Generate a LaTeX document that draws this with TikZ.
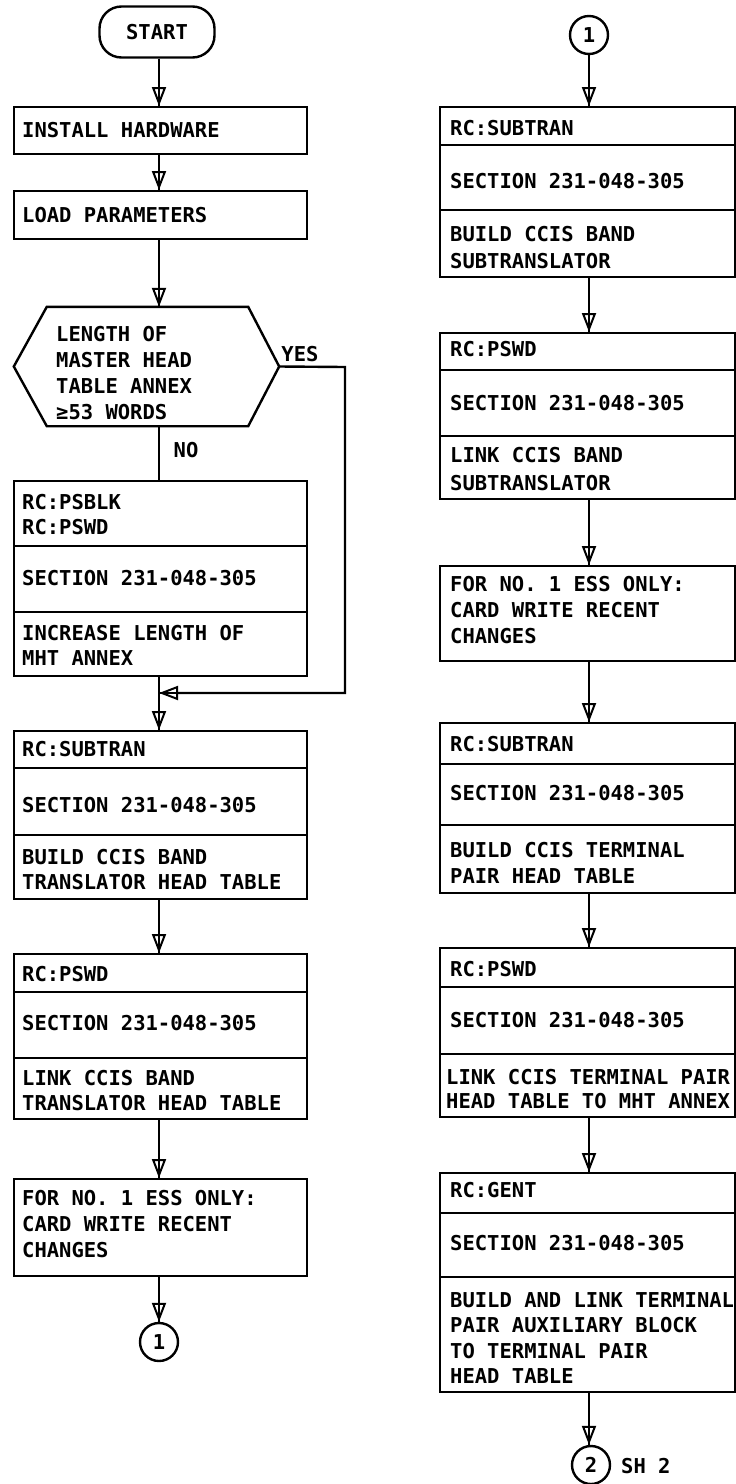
\documentclass[tikz,border=0pt]{standalone}
\usepackage{fontspec}
\newfontfamily\lf{DejaVu Sans Mono Bold}
\usetikzlibrary{arrows.meta}
\begin{document}
\begin{tikzpicture}[x=1pt,y=-1pt,line width=2.4pt,
  box/.style={draw,anchor=north west,inner sep=0pt,minimum width=#1},
  lbox/.style={box=293pt},
  rbox/.style={box=295pt},
  txt/.style={anchor=north west,inner sep=0pt,align=left,font=\lf\fontsize{20.5}{26}\selectfont},
  ctxt/.style={inner sep=0pt,font=\lf\fontsize{20.5}{26}\selectfont},
  conn/.style={draw,circle,inner sep=0pt,minimum size=38pt,font=\lf\fontsize{20.5}{26}\selectfont},
  arr/.style={postaction={draw,-}, -{Triangle[open,length=19pt,width=14pt,line width=2pt]}}
]
\fill[white] (0,0) rectangle (736,1484);
\useasboundingbox (0,0) rectangle (736,1484);
\coordinate (Lx) at (159,0);
\coordinate (Rx) at (589,0);

% ---------- left column ----------
\node[draw,rounded corners=22pt,minimum width=115pt,minimum height=51pt,inner sep=0pt,font=\lf\fontsize{20.5}{26}\selectfont] (start) at (157,32) {START};

\node[lbox,minimum height=47pt] (b1) at (13,106) {};
\node[txt] at (21,121.5) {INSTALL HARDWARE};

\node[lbox,minimum height=48pt] (b2) at (13,190) {};
\node[txt] at (21,206.5) {LOAD PARAMETERS};

\node[inner sep=0pt,minimum width=263pt,minimum height=117pt] (dec) at (146.5,366.5) {};
\draw (dec.west) -- ([xshift=33pt]dec.north west) -- ([xshift=-31pt]dec.north east) -- (dec.east)
      -- ([xshift=-31pt]dec.south east) -- ([xshift=33pt]dec.south west) -- cycle;
\node[txt,font=\lf\fontsize{20.5}{25.7}\selectfont] (dectext) at (55,325.5) {LENGTH OF\\MASTER HEAD\\TABLE ANNEX\\≥53 WORDS};
\node[ctxt] (yes) at (300,354) {YES};
\node[ctxt] (no) at (186,450) {NO};

\node[lbox,minimum height=195pt] (b3) at (13,480) {};
\draw (b3.west |- 0,546) -- (b3.east |- 0,546);
\draw (b3.west |- 0,612) -- (b3.east |- 0,612);
\node[txt,font=\lf\fontsize{20.5}{25}\selectfont] at (21,493.5) {RC:PSBLK\\RC:PSWD};
\node[txt] at (21,569.5) {SECTION 231-048-305};
\node[txt,font=\lf\fontsize{20.5}{25}\selectfont] at (21,624.5) {INCREASE LENGTH OF\\MHT ANNEX};

\node[lbox,minimum height=168pt] (b4) at (13,730) {};
\draw (b4.west |- 0,768) -- (b4.east |- 0,768);
\draw (b4.west |- 0,835) -- (b4.east |- 0,835);
\node[txt] at (21,740.5) {RC:SUBTRAN};
\node[txt] at (21,796.5) {SECTION 231-048-305};
\node[txt,font=\lf\fontsize{20.5}{24.5}\selectfont] at (21,848.5) {BUILD CCIS BAND\\TRANSLATOR HEAD TABLE};

\node[lbox,minimum height=165pt] (b5) at (13,953) {};
\draw (b5.west |- 0,992) -- (b5.east |- 0,992);
\draw (b5.west |- 0,1058) -- (b5.east |- 0,1058);
\node[txt] at (21,965.5) {RC:PSWD};
\node[txt] at (21,1014.5) {SECTION 231-048-305};
\node[txt,font=\lf\fontsize{20.5}{24.5}\selectfont] at (21,1069.5) {LINK CCIS BAND\\TRANSLATOR HEAD TABLE};

\node[lbox,minimum height=97pt] (b6) at (13,1178) {};
\node[txt] at (21,1189.5) {FOR NO. 1 ESS ONLY:\\CARD WRITE RECENT\\CHANGES};

\node[conn] (c1a) at (159,1342) {1};

\draw[arr] (start.south -| Lx) -- (b1.north -| Lx);
\draw[arr] (b1.south -| Lx) -- (b2.north -| Lx);
\draw[arr] (b2.south -| Lx) -- (dec.north -| Lx);
\draw (dec.south -| Lx) -- (b3.north -| Lx);
\coordinate (yr) at (345,367);
\coordinate (join) at (159,693);
\draw (dec.east) -- (yr) -- (yr |- join) -- ([xshift=19pt]join);
\draw[arr] ([xshift=19pt]join) -- (join);
\draw[arr] (b3.south -| Lx) -- (b4.north -| Lx);
\draw[arr] (b4.south -| Lx) -- (b5.north -| Lx);
\draw[arr] (b5.south -| Lx) -- (b6.north -| Lx);
\draw[arr] (b6.south -| Lx) -- (c1a.north -| Lx);

% ---------- right column ----------
\node[conn] (c1b) at (589,35) {1};

\node[rbox,minimum height=170pt] (r1) at (439,106) {};
\draw (r1.west |- 0,145) -- (r1.east |- 0,145);
\draw (r1.west |- 0,210) -- (r1.east |- 0,210);
\node[txt] at (449,119.5) {RC:SUBTRAN};
\node[txt] at (449,172.5) {SECTION 231-048-305};
\node[txt,font=\lf\fontsize{20.5}{27}\selectfont] at (449,225.5) {BUILD CCIS BAND\\SUBTRANSLATOR};

\node[rbox,minimum height=166pt] (r2) at (439,332) {};
\draw (r2.west |- 0,370) -- (r2.east |- 0,370);
\draw (r2.west |- 0,436) -- (r2.east |- 0,436);
\node[txt] at (449,340.5) {RC:PSWD};
\node[txt] at (449,394.5) {SECTION 231-048-305};
\node[txt,font=\lf\fontsize{20.5}{28}\selectfont] at (449,446.5) {LINK CCIS BAND\\SUBTRANSLATOR};

\node[rbox,minimum height=95pt] (r3) at (439,565) {};
\node[txt] at (449,575.5) {FOR NO. 1 ESS ONLY:\\CARD WRITE RECENT\\CHANGES};

\node[rbox,minimum height=170pt] (r4) at (439,722) {};
\draw (r4.west |- 0,764) -- (r4.east |- 0,764);
\draw (r4.west |- 0,825) -- (r4.east |- 0,825);
\node[txt] at (449,735.5) {RC:SUBTRAN};
\node[txt] at (449,784.5) {SECTION 231-048-305};
\node[txt] at (449,841.5) {BUILD CCIS TERMINAL\\PAIR HEAD TABLE};

\node[rbox,minimum height=169pt] (r5) at (439,947) {};
\draw (r5.west |- 0,987) -- (r5.east |- 0,987);
\draw (r5.west |- 0,1054) -- (r5.east |- 0,1054);
\node[txt] at (449,960.5) {RC:PSWD};
\node[txt] at (449,1011.5) {SECTION 231-048-305};
\node[txt,font=\lf\fontsize{20.5}{24}\selectfont] at (445,1068.5) {LINK CCIS TERMINAL PAIR\\HEAD TABLE TO MHT ANNEX};

\node[rbox,minimum height=219pt] (r6) at (439,1172) {};
\draw (r6.west |- 0,1213) -- (r6.east |- 0,1213);
\draw (r6.west |- 0,1277) -- (r6.east |- 0,1277);
\node[txt] at (449,1181.5) {RC:GENT};
\node[txt] at (449,1234.5) {SECTION 231-048-305};
\node[txt,font=\lf\fontsize{20.5}{25.3}\selectfont] at (449,1291.5) {BUILD AND LINK TERMINAL\\PAIR AUXILIARY BLOCK\\TO TERMINAL PAIR\\HEAD TABLE};

\node[conn] (c2) at (591,1465) {2};
\node[ctxt,anchor=west] (sh) at (620,1466) {SH 2};

\draw[arr] (c1b.south -| Rx) -- (r1.north -| Rx);
\draw[arr] (r1.south -| Rx) -- (r2.north -| Rx);
\draw[arr] (r2.south -| Rx) -- (r3.north -| Rx);
\draw[arr] (r3.south -| Rx) -- (r4.north -| Rx);
\draw[arr] (r4.south -| Rx) -- (r5.north -| Rx);
\draw[arr] (r5.south -| Rx) -- (r6.north -| Rx);
\draw[arr] (r6.south -| Rx) -- (c2.north -| Rx);
\end{tikzpicture}
\end{document}
